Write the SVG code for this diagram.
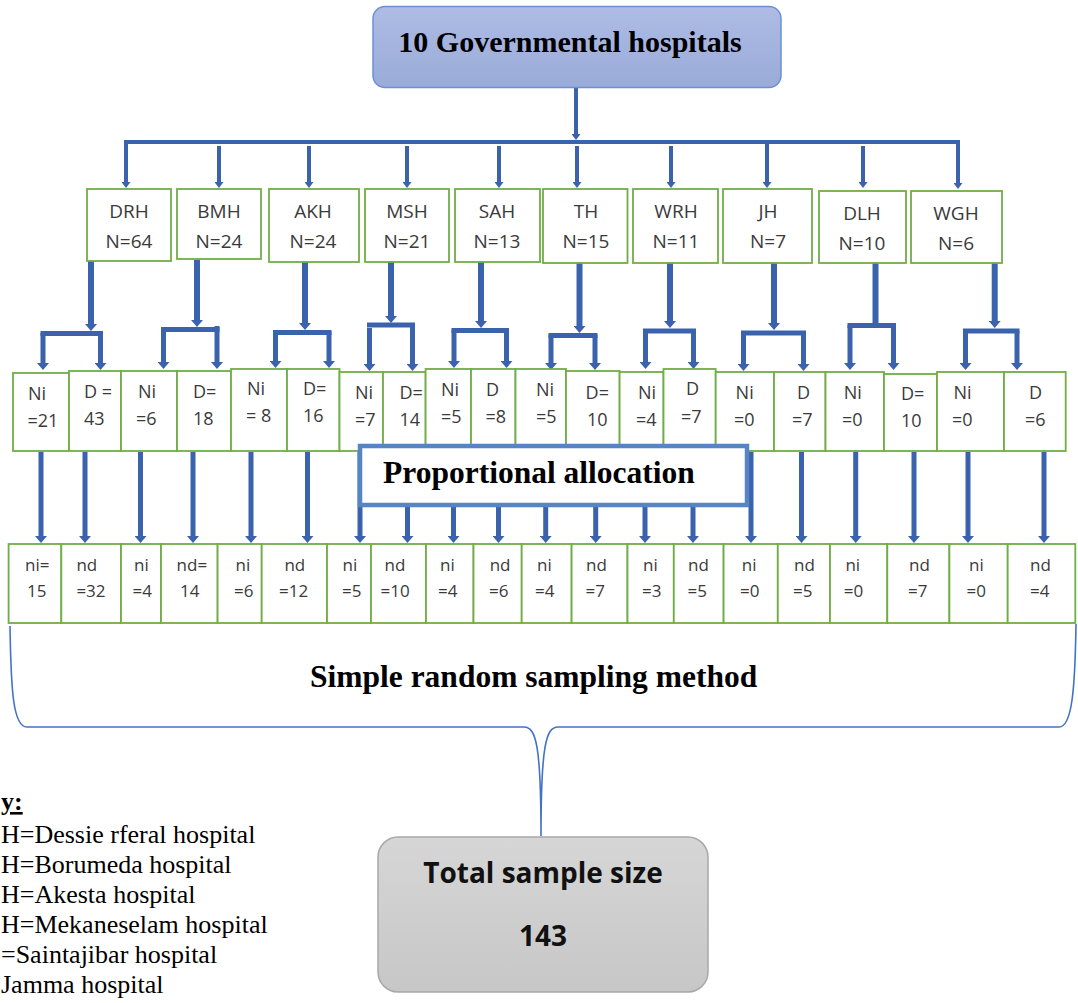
<svg xmlns="http://www.w3.org/2000/svg" width="1078" height="1003" viewBox="0 0 1078 1003">
<style>
.hb{fill:#fff;stroke:#70ad47;stroke-width:1.8}
.ht{font-family:"Open Sans","Noto Sans",sans-serif;font-size:19px;fill:#3a3a3a;text-anchor:middle}
.st{font-family:"Open Sans","Noto Sans",sans-serif;font-size:18px;fill:#3a3a3a}
.bt{font-family:"Open Sans","Noto Sans",sans-serif;font-size:17px;fill:#3a3a3a}
.c{stroke:#3b62ad;fill:none}
.bus{stroke-width:4}
.stem{stroke-width:6}
.bar{stroke-width:5;stroke-linecap:square}
.leg{stroke-width:5}
.tb{font-family:"Liberation Serif","Times New Roman",serif;font-weight:bold;fill:#000}
.lg{font-family:"Liberation Serif","Times New Roman",serif;font-size:26px;fill:#000}
</style>
<defs>
<linearGradient id="gTop" x1="0" y1="0" x2="0" y2="1"><stop offset="0" stop-color="#aebce5"/><stop offset="1" stop-color="#9aabd8"/></linearGradient>
<linearGradient id="gGray" x1="0" y1="0" x2="0" y2="1"><stop offset="0" stop-color="#d6d6d6"/><stop offset="1" stop-color="#c7c7c7"/></linearGradient>
<marker id="ah" viewBox="0 0 7 12" refX="0" refY="6" markerWidth="7" markerHeight="12" markerUnits="userSpaceOnUse" orient="auto"><path d="M0,0 L7,6 L0,12 z" fill="#3b62ad"/></marker>
<marker id="as" viewBox="0 0 6 9" refX="0" refY="4.5" markerWidth="6" markerHeight="9" markerUnits="userSpaceOnUse" orient="auto"><path d="M0,0 L6,4.5 L0,9 z" fill="#3b62ad"/></marker>
</defs>

<g id="connectors">
  <line class="c bus" x1="576" y1="88" x2="576" y2="134" marker-end="url(#as)"/>
  <line class="c bus" x1="124" y1="142" x2="960" y2="142"/>
  <g marker-end="url(#as)">
    <line class="c bus" x1="126" y1="140" x2="126" y2="182"/>
    <line class="c bus" x1="219" y1="146" x2="219" y2="182"/>
    <line class="c bus" x1="309" y1="146" x2="309" y2="182"/>
    <line class="c bus" x1="407" y1="146" x2="407" y2="182"/>
    <line class="c bus" x1="499" y1="146" x2="499" y2="182"/>
    <line class="c bus" x1="577" y1="146" x2="577" y2="182"/>
    <line class="c bus" x1="671" y1="146" x2="671" y2="182"/>
    <line class="c bus" x1="767" y1="140" x2="767" y2="182"/>
    <line class="c bus" x1="863" y1="146" x2="863" y2="182"/>
    <line class="c bus" x1="958" y1="140" x2="958" y2="183"/>
  </g>
  <!-- DRH -->
  <line class="c stem" x1="91" y1="261" x2="91" y2="324" marker-end="url(#ah)"/>
  <line class="c bar" x1="43" y1="333.5" x2="100.5" y2="333.5"/>
  <line class="c leg" x1="43" y1="333" x2="43" y2="363" marker-end="url(#ah)"/>
  <line class="c leg" x1="100.5" y1="333" x2="100.5" y2="363" marker-end="url(#ah)"/>
  <!-- BMH -->
  <line class="c stem" x1="197" y1="260" x2="197" y2="320" marker-end="url(#ah)"/>
  <line class="c bar" x1="163.5" y1="329.5" x2="217" y2="329.5"/>
  <line class="c leg" x1="163.5" y1="329" x2="163.5" y2="362" marker-end="url(#ah)"/>
  <line class="c leg" x1="217" y1="326" x2="217" y2="362" marker-end="url(#ah)"/>
  <!-- AKH -->
  <line class="c stem" x1="305" y1="262" x2="305" y2="323" marker-end="url(#ah)"/>
  <line class="c bar" x1="275.5" y1="332.5" x2="329" y2="332.5"/>
  <line class="c leg" x1="275.5" y1="332" x2="275.5" y2="361" marker-end="url(#ah)"/>
  <line class="c leg" x1="329" y1="332" x2="329" y2="361" marker-end="url(#ah)"/>
  <!-- MSH -->
  <line class="c stem" x1="391" y1="262" x2="391" y2="316" marker-end="url(#ah)"/>
  <line class="c bar" x1="369.5" y1="325" x2="412.5" y2="325"/>
  <line class="c leg" x1="369.5" y1="328" x2="369.5" y2="364" marker-end="url(#ah)"/>
  <line class="c leg" x1="412.5" y1="325" x2="412.5" y2="364" marker-end="url(#ah)"/>
  <!-- SAH -->
  <line class="c stem" x1="481" y1="262" x2="481" y2="321" marker-end="url(#ah)"/>
  <line class="c bar" x1="454" y1="330.5" x2="506.5" y2="330.5"/>
  <line class="c leg" x1="454" y1="330" x2="454" y2="361" marker-end="url(#ah)"/>
  <line class="c leg" x1="506.5" y1="330" x2="506.5" y2="361" marker-end="url(#ah)"/>
  <!-- TH -->
  <line class="c stem" x1="579.5" y1="263" x2="579.5" y2="326" marker-end="url(#ah)"/>
  <line class="c bar" x1="551" y1="335.5" x2="595" y2="335.5"/>
  <line class="c leg" x1="551" y1="335" x2="551" y2="363" marker-end="url(#ah)"/>
  <line class="c leg" x1="595" y1="335" x2="595" y2="363" marker-end="url(#ah)"/>
  <!-- WRH -->
  <line class="c stem" x1="670" y1="263" x2="670" y2="321" marker-end="url(#ah)"/>
  <line class="c bar" x1="645.5" y1="331" x2="693.5" y2="331"/>
  <line class="c leg" x1="645.5" y1="331" x2="645.5" y2="362" marker-end="url(#ah)"/>
  <line class="c leg" x1="693.5" y1="331" x2="693.5" y2="362" marker-end="url(#ah)"/>
  <!-- JH -->
  <line class="c stem" x1="774" y1="263" x2="774" y2="323" marker-end="url(#ah)"/>
  <line class="c bar" x1="743.5" y1="333" x2="803.5" y2="333"/>
  <line class="c leg" x1="743.5" y1="333" x2="743.5" y2="364" marker-end="url(#ah)"/>
  <line class="c leg" x1="803.5" y1="333" x2="803.5" y2="364" marker-end="url(#ah)"/>
  <!-- DLH -->
  <line class="c stem" x1="875.5" y1="263" x2="875.5" y2="326"/>
  <line class="c bar" x1="850" y1="325.5" x2="893.5" y2="325.5"/>
  <line class="c leg" x1="850" y1="325" x2="850" y2="363" marker-end="url(#ah)"/>
  <line class="c leg" x1="893.5" y1="325" x2="893.5" y2="363" marker-end="url(#ah)"/>
  <!-- WGH -->
  <line class="c stem" x1="994.7" y1="263" x2="994.7" y2="321" marker-end="url(#ah)"/>
  <line class="c bar" x1="965.5" y1="331" x2="1017" y2="331"/>
  <line class="c leg" x1="965.5" y1="331" x2="965.5" y2="363" marker-end="url(#ah)"/>
  <line class="c leg" x1="1017" y1="331" x2="1017" y2="363" marker-end="url(#ah)"/>
  <!-- second to third row -->
  <g marker-end="url(#ah)">
    <line class="c leg" x1="41" y1="452" x2="41" y2="536"/>
    <line class="c leg" x1="85" y1="452" x2="85" y2="536"/>
    <line class="c leg" x1="140.5" y1="452" x2="140.5" y2="536"/>
    <line class="c leg" x1="193" y1="452" x2="193" y2="536"/>
    <line class="c leg" x1="251" y1="452" x2="251" y2="536"/>
    <line class="c leg" x1="307.5" y1="452" x2="307.5" y2="536"/>
    <line class="c leg" x1="360" y1="452" x2="360" y2="536"/>
    <line class="c leg" x1="407.5" y1="452" x2="407.5" y2="536"/>
    <line class="c leg" x1="453.5" y1="452" x2="453.5" y2="536"/>
    <line class="c leg" x1="498.5" y1="452" x2="498.5" y2="536"/>
    <line class="c leg" x1="545.7" y1="452" x2="545.7" y2="536"/>
    <line class="c leg" x1="595.7" y1="452" x2="595.7" y2="536"/>
    <line class="c leg" x1="645" y1="452" x2="645" y2="536"/>
    <line class="c leg" x1="693" y1="452" x2="693" y2="536"/>
    <line class="c leg" x1="751" y1="452" x2="751" y2="536"/>
    <line class="c leg" x1="801.5" y1="452" x2="801.5" y2="536"/>
    <line class="c leg" x1="855.7" y1="452" x2="855.7" y2="536"/>
    <line class="c leg" x1="914" y1="452" x2="914" y2="536"/>
    <line class="c leg" x1="968" y1="452" x2="968" y2="536"/>
    <line class="c leg" x1="1044" y1="452" x2="1044" y2="536"/>
  </g>
  <!-- brace -->
  <path d="M10,626 C11,690 13,727 27,727 L524,727 C536,727 541,745 541,836 M541,836 C541,745 546,727 558,727 L1059,727 C1072,727 1075,690 1076,624" fill="none" stroke="#4472c4" stroke-width="1.6"/>
</g>

<g id="top">
  <rect x="373" y="6.5" width="408" height="81" rx="12" fill="url(#gTop)" stroke="#6e8fd6" stroke-width="1.5"/>
  <text class="tb" x="570" y="52" font-size="30" text-anchor="middle">10 Governmental hospitals</text>
</g>

<g id="hospitals">
  <g id="DRH"><rect class="hb" x="87" y="189" width="84" height="72"/><text class="ht" x="129" y="218">DRH</text><text class="ht" x="129" y="248">N=64</text></g>
  <g id="BMH"><rect class="hb" x="177" y="189" width="84" height="70"/><text class="ht" x="219" y="218">BMH</text><text class="ht" x="219" y="248">N=24</text></g>
  <g id="AKH"><rect class="hb" x="269" y="189" width="90" height="73"/><text class="ht" x="313" y="218">AKH</text><text class="ht" x="313" y="248">N=24</text></g>
  <g id="MSH"><rect class="hb" x="365" y="189" width="84" height="73"/><text class="ht" x="407" y="218">MSH</text><text class="ht" x="407" y="248">N=21</text></g>
  <g id="SAH"><rect class="hb" x="455" y="189" width="85" height="73"/><text class="ht" x="497" y="218">SAH</text><text class="ht" x="497" y="248">N=13</text></g>
  <g id="TH"><rect class="hb" x="543" y="189" width="84.5" height="74"/><text class="ht" x="586" y="218">TH</text><text class="ht" x="586" y="248">N=15</text></g>
  <g id="WRH"><rect class="hb" x="633" y="189" width="85" height="74"/><text class="ht" x="676" y="218">WRH</text><text class="ht" x="676" y="248">N=11</text></g>
  <g id="JH"><rect class="hb" x="723" y="189" width="89" height="74"/><text class="ht" x="768" y="218">JH</text><text class="ht" x="768" y="248">N=7</text></g>
  <g id="DLH"><rect class="hb" x="819" y="191" width="87" height="72"/><text class="ht" x="862" y="220">DLH</text><text class="ht" x="862" y="250">N=10</text></g>
  <g id="WGH"><rect class="hb" x="911" y="191" width="91" height="72"/><text class="ht" x="956" y="220">WGH</text><text class="ht" x="956" y="250">N=6</text></g>
</g>

<g id="strata">
  <g id="s1"><rect class="hb" x="13" y="373" width="56" height="78"/><text class="st" x="28" y="400">Ni</text><text class="st" x="27.5" y="427">=21</text></g>
  <g id="s2"><rect class="hb" x="69" y="371" width="52" height="80"/><text class="st" x="84" y="398">D =</text><text class="st" x="84" y="425">43</text></g>
  <g id="s3"><rect class="hb" x="121" y="371" width="56" height="80"/><text class="st" x="138" y="398">Ni</text><text class="st" x="136" y="425">=6</text></g>
  <g id="s4"><rect class="hb" x="177" y="371" width="54" height="80"/><text class="st" x="193" y="398">D=</text><text class="st" x="193" y="425">18</text></g>
  <g id="s5"><rect class="hb" x="231" y="369" width="56" height="82"/><text class="st" x="247" y="395">Ni</text><text class="st" x="246" y="422">= 8</text></g>
  <g id="s6"><rect class="hb" x="287" y="369" width="52.5" height="82"/><text class="st" x="303" y="395">D=</text><text class="st" x="303" y="422">16</text></g>
  <g id="s7"><rect class="hb" x="339.5" y="372" width="43.5" height="79"/><text class="st" x="355" y="399">Ni</text><text class="st" x="355" y="426">=7</text></g>
  <g id="s8"><rect class="hb" x="383" y="372" width="42.6" height="79"/><text class="st" x="399.5" y="399">D=</text><text class="st" x="399.5" y="426">14</text></g>
  <g id="s9"><rect class="hb" x="425.6" y="369" width="45.4" height="82"/><text class="st" x="441" y="396">Ni</text><text class="st" x="441" y="423">=5</text></g>
  <g id="s10"><rect class="hb" x="471" y="369" width="44.5" height="82"/><text class="st" x="486" y="396">D</text><text class="st" x="485.5" y="423">=8</text></g>
  <g id="s11"><rect class="hb" x="515.5" y="369" width="50.5" height="82"/><text class="st" x="536" y="396">Ni</text><text class="st" x="536" y="423">=5</text></g>
  <g id="s12"><rect class="hb" x="566" y="371" width="53.6" height="80"/><text class="st" x="585.6" y="399">D=</text><text class="st" x="587" y="426">10</text></g>
  <g id="s13"><rect class="hb" x="619.6" y="372" width="43.9" height="79"/><text class="st" x="638" y="399">Ni</text><text class="st" x="636" y="426">=4</text></g>
  <g id="s14"><rect class="hb" x="663.5" y="369" width="52.2" height="82"/><text class="st" x="686" y="395">D</text><text class="st" x="681" y="423">=7</text></g>
  <g id="s15"><rect class="hb" x="715.7" y="372" width="58.3" height="79"/><text class="st" x="735.6" y="399">Ni</text><text class="st" x="734" y="426">=0</text></g>
  <g id="s16"><rect class="hb" x="774" y="372" width="51.5" height="79"/><text class="st" x="797" y="399">D</text><text class="st" x="792" y="426">=7</text></g>
  <g id="s17"><rect class="hb" x="825.5" y="372" width="58.5" height="79"/><text class="st" x="843.7" y="399">Ni</text><text class="st" x="842" y="426">=0</text></g>
  <g id="s18"><rect class="hb" x="884" y="374" width="53" height="77"/><text class="st" x="901" y="400">D=</text><text class="st" x="901" y="427">10</text></g>
  <g id="s19"><rect class="hb" x="937" y="372" width="67" height="79"/><text class="st" x="953.5" y="399">Ni</text><text class="st" x="952" y="426">=0</text></g>
  <g id="s20"><rect class="hb" x="1004" y="372" width="61.7" height="79"/><text class="st" x="1029" y="399">D</text><text class="st" x="1025" y="426">=6</text></g>
</g>

<g id="proportional">
  <rect x="360" y="446" width="387" height="59" fill="#fff" stroke="#5585c5" stroke-width="4.5"/>
  <text class="tb" x="383" y="483" font-size="31.5">Proportional allocation</text>
</g>

<g id="samples">
  <g id="n1"><rect class="hb" x="8.6" y="544" width="52.7" height="79"/><text class="bt" x="25" y="571">ni=</text><text class="bt" x="27" y="597">15</text></g>
  <g id="n2"><rect class="hb" x="61.3" y="544" width="59.7" height="79"/><text class="bt" x="76.4" y="571">nd</text><text class="bt" x="76.4" y="597">=32</text></g>
  <g id="n3"><rect class="hb" x="121" y="544" width="40" height="79"/><text class="bt" x="134" y="571">ni</text><text class="bt" x="132.6" y="597">=4</text></g>
  <g id="n4"><rect class="hb" x="161" y="544" width="56.6" height="79"/><text class="bt" x="176.6" y="571">nd=</text><text class="bt" x="180" y="597">14</text></g>
  <g id="n5"><rect class="hb" x="217.6" y="544" width="44.1" height="79"/><text class="bt" x="235.5" y="571">ni</text><text class="bt" x="234" y="597">=6</text></g>
  <g id="n6"><rect class="hb" x="261.7" y="544" width="65.3" height="79"/><text class="bt" x="284.4" y="571">nd</text><text class="bt" x="279" y="597">=12</text></g>
  <g id="n7"><rect class="hb" x="327" y="544" width="44" height="79"/><text class="bt" x="342.6" y="571">ni</text><text class="bt" x="342" y="597">=5</text></g>
  <g id="n8"><rect class="hb" x="371" y="544" width="55" height="79"/><text class="bt" x="384.6" y="571">nd</text><text class="bt" x="380.5" y="597">=10</text></g>
  <g id="n9"><rect class="hb" x="426" y="544" width="47.5" height="79"/><text class="bt" x="440" y="571">ni</text><text class="bt" x="438" y="597">=4</text></g>
  <g id="n10"><rect class="hb" x="473.5" y="544" width="48.2" height="79"/><text class="bt" x="489.7" y="571">nd</text><text class="bt" x="489" y="597">=6</text></g>
  <g id="n11"><rect class="hb" x="521.7" y="544" width="49.9" height="79"/><text class="bt" x="537" y="571">ni</text><text class="bt" x="535" y="597">=4</text></g>
  <g id="n12"><rect class="hb" x="571.6" y="544" width="55.9" height="79"/><text class="bt" x="586" y="571">nd</text><text class="bt" x="585.6" y="597">=7</text></g>
  <g id="n13"><rect class="hb" x="627.5" y="544" width="46.3" height="79"/><text class="bt" x="643" y="571">ni</text><text class="bt" x="642" y="597">=3</text></g>
  <g id="n14"><rect class="hb" x="673.8" y="544" width="49.8" height="79"/><text class="bt" x="688" y="571">nd</text><text class="bt" x="687.6" y="597">=5</text></g>
  <g id="n15"><rect class="hb" x="723.6" y="544" width="54.2" height="79"/><text class="bt" x="741.8" y="571">ni</text><text class="bt" x="740" y="597">=0</text></g>
  <g id="n16"><rect class="hb" x="777.8" y="544" width="52.2" height="79"/><text class="bt" x="794" y="571">nd</text><text class="bt" x="793" y="597">=5</text></g>
  <g id="n17"><rect class="hb" x="830" y="544" width="57.3" height="79"/><text class="bt" x="845.4" y="571">ni</text><text class="bt" x="843.7" y="597">=0</text></g>
  <g id="n18"><rect class="hb" x="887.3" y="544" width="62.1" height="79"/><text class="bt" x="909" y="571">nd</text><text class="bt" x="908" y="597">=7</text></g>
  <g id="n19"><rect class="hb" x="949.4" y="544" width="58.3" height="79"/><text class="bt" x="969" y="571">ni</text><text class="bt" x="966.6" y="597">=0</text></g>
  <g id="n20"><rect class="hb" x="1007.7" y="544" width="67.6" height="79"/><text class="bt" x="1030" y="571">nd</text><text class="bt" x="1030" y="597">=4</text></g>
</g>

<g id="method">
  <text class="tb" x="310" y="687" font-size="31.5">Simple random sampling method</text>
</g>

<g id="total">
  <rect x="378" y="837" width="330" height="155" rx="20" fill="url(#gGray)" stroke="#a8a8a8" stroke-width="1.5"/>
  <text x="543" y="883" font-family="'Open Sans','Noto Sans',sans-serif" font-weight="bold" font-size="28" fill="#111" text-anchor="middle">Total sample size</text>
  <text x="543" y="946" font-family="'Open Sans','Noto Sans',sans-serif" font-weight="bold" font-size="28" fill="#111" text-anchor="middle">143</text>
</g>

<g id="legend">
  <text class="lg" x="1" y="810" font-weight="bold" text-decoration="underline">y:</text>
  <text class="lg" x="1" y="843">H=Dessie rferal hospital</text>
  <text class="lg" x="1" y="873">H=Borumeda hospital</text>
  <text class="lg" x="1" y="903">H=Akesta hospital</text>
  <text class="lg" x="1" y="933">H=Mekaneselam hospital</text>
  <text class="lg" x="1" y="963">=Saintajibar hospital</text>
  <text class="lg" x="1" y="993">Jamma hospital</text>
</g>
</svg>
